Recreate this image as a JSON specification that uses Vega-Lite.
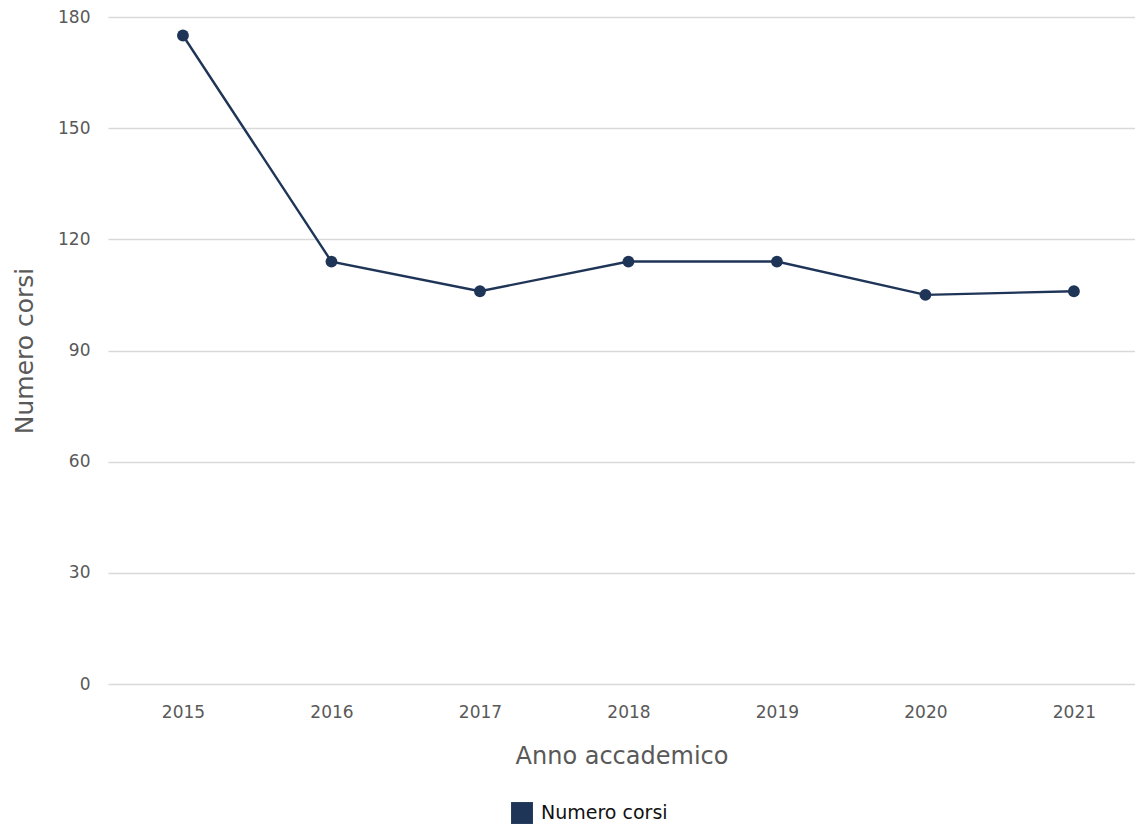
{
  "$schema": "https://vega.github.io/schema/vega-lite/v6.json",
  "width": 1027,
  "height": 667,
  "autosize": {"type": "none"},
  "padding": {"left": 108, "top": 17, "right": 0, "bottom": 141},
  "background": "white",
  "config": {
    "font": "DejaVu Sans",
    "view": {"stroke": null}
  },
  "data": {
    "values": [
      {"anno": "2015", "corsi": 175},
      {"anno": "2016", "corsi": 114},
      {"anno": "2017", "corsi": 106},
      {"anno": "2018", "corsi": 114},
      {"anno": "2019", "corsi": 114},
      {"anno": "2020", "corsi": 105},
      {"anno": "2021", "corsi": 106}
    ]
  },
  "encoding": {
    "x": {
      "field": "anno",
      "type": "ordinal",
      "scale": {"type": "point", "padding": 0.458, "align": 0.551},
      "axis": {
        "title": "Anno accademico",
        "titleFontSize": 24,
        "titleFontWeight": "normal",
        "titleColor": "#595959",
        "titlePadding": 24,
        "labelFontSize": 17,
        "labelColor": "#595959",
        "labelAngle": 0,
        "labelPadding": 20,
        "ticks": false,
        "domain": false,
        "grid": false
      }
    },
    "y": {
      "field": "corsi",
      "type": "quantitative",
      "scale": {"domain": [0, 180]},
      "axis": {
        "title": "Numero corsi",
        "values": [0, 30, 60, 90, 120, 150, 180],
        "titleFontSize": 25,
        "titleFontWeight": "normal",
        "titleColor": "#595959",
        "titlePadding": 20,
        "labelFontSize": 17,
        "labelColor": "#595959",
        "labelPadding": 18,
        "ticks": false,
        "domain": false,
        "gridColor": "#d9d9d9",
        "gridWidth": 1.5
      }
    },
    "color": {
      "datum": "Numero corsi",
      "scale": {"range": ["#1f3558"]},
      "legend": {
        "title": null,
        "orient": "none",
        "legendX": 403,
        "legendY": 785,
        "symbolType": "square",
        "symbolSize": 480,
        "symbolFillColor": "#1f3558",
        "symbolStrokeColor": "#1f3558",
        "symbolStrokeWidth": 0,
        "labelFontSize": 19,
        "labelColor": "#111111",
        "labelOffset": 8
      }
    }
  },
  "layer": [
    {"mark": {"type": "line", "strokeWidth": 2.4}},
    {"mark": {"type": "point", "filled": true, "opacity": 1, "size": 140}}
  ]
}
